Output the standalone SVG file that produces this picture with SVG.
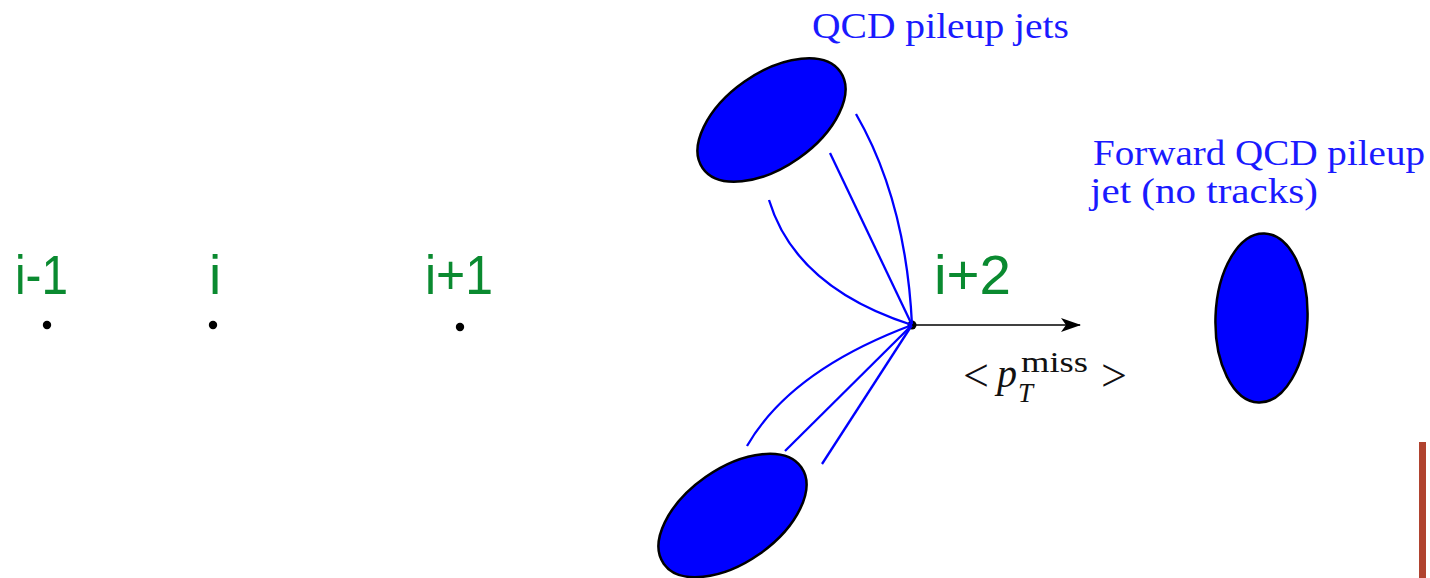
<svg xmlns="http://www.w3.org/2000/svg" width="1430" height="578" viewBox="0 0 1430 578">
<style>
.jet{fill:#0000ff;stroke:#000;stroke-width:2.5}
.trk{fill:none;stroke:#0000ff;stroke-width:2.3}
.vlab{font-family:"Liberation Sans",Arial,sans-serif;font-size:55px;fill:#0a8a30}
.blab{font-family:"Liberation Serif","Times New Roman",serif;font-size:36px;fill:#1a1aff}
.math{font-family:"Liberation Serif","Times New Roman",serif;fill:#111}
.dot{fill:#000}
</style>
<defs>
<marker id="arr" viewBox="0 0 20 14" refX="19" refY="7" markerWidth="20" markerHeight="14" markerUnits="userSpaceOnUse" orient="auto">
<path d="M0,0 L20,7 L0,14 L5,7 Z" fill="#000"/>
</marker>
</defs>
<rect width="1430" height="578" fill="#fff"/>
<g id="vertex-im1"><text class="vlab" x="15" y="294" textLength="53" lengthAdjust="spacingAndGlyphs">i-1</text><circle class="dot" cx="47" cy="325" r="4.2"/></g>
<g id="vertex-i"><text class="vlab" x="209" y="294">i</text><circle class="dot" cx="213" cy="325" r="4.2"/></g>
<g id="vertex-ip1"><text class="vlab" x="425" y="294" textLength="68" lengthAdjust="spacingAndGlyphs">i+1</text><circle class="dot" cx="460" cy="327" r="4.2"/></g>
<g id="vertex-ip2"><text class="vlab" x="934" y="294" textLength="77" lengthAdjust="spacingAndGlyphs">i+2</text><circle class="dot" cx="912" cy="325" r="4.5"/></g>
<g id="jet-top"><ellipse class="jet" cx="771.5" cy="120" rx="84" ry="47" transform="rotate(-35 771.5 120)"/></g>
<g id="jet-bottom"><ellipse class="jet" cx="732.5" cy="515.5" rx="84" ry="47" transform="rotate(-35 732.5 515.5)"/></g>
<g id="jet-forward"><ellipse class="jet" cx="1261.5" cy="318" rx="46" ry="84.5" transform="rotate(2 1261.5 318)"/></g>
<g id="connectors">
<path class="trk" d="M769,200 Q795.5,287.5 912,325"/>
<path class="trk" d="M830,153 L912,325"/>
<path class="trk" d="M856,114 Q906,200.5 912,325"/>
<path class="trk" d="M747,446 Q790.5,370.5 912,325"/>
<path class="trk" d="M785,451 L912,325"/>
<path class="trk" d="M822,464 L912,325"/>
<line x1="912" y1="325" x2="1080" y2="325" stroke="#000" stroke-width="1.6" marker-end="url(#arr)"/>
</g>
<g id="labels">
<text class="blab" x="812" y="38" textLength="257" lengthAdjust="spacingAndGlyphs">QCD pileup jets</text>
<text class="blab" x="1093" y="165" textLength="332" lengthAdjust="spacingAndGlyphs">Forward QCD pileup</text>
<text class="blab" x="1090" y="203" textLength="228" lengthAdjust="spacingAndGlyphs">jet (no tracks)</text>
</g>
<g id="ptmiss">
<text class="math" x="963" y="391" font-size="46">&lt;</text>
<text class="math" x="997" y="387" font-size="40" font-style="italic">p</text>
<text class="math" x="1018" y="402" font-size="27" font-style="italic">T</text>
<text class="math" x="1021" y="372" font-size="30" textLength="67" lengthAdjust="spacingAndGlyphs">miss</text>
<text class="math" x="1101" y="391" font-size="46">&gt;</text>
</g>
<rect x="1419" y="442" width="7" height="136" fill="#b0432f"/>
</svg>
